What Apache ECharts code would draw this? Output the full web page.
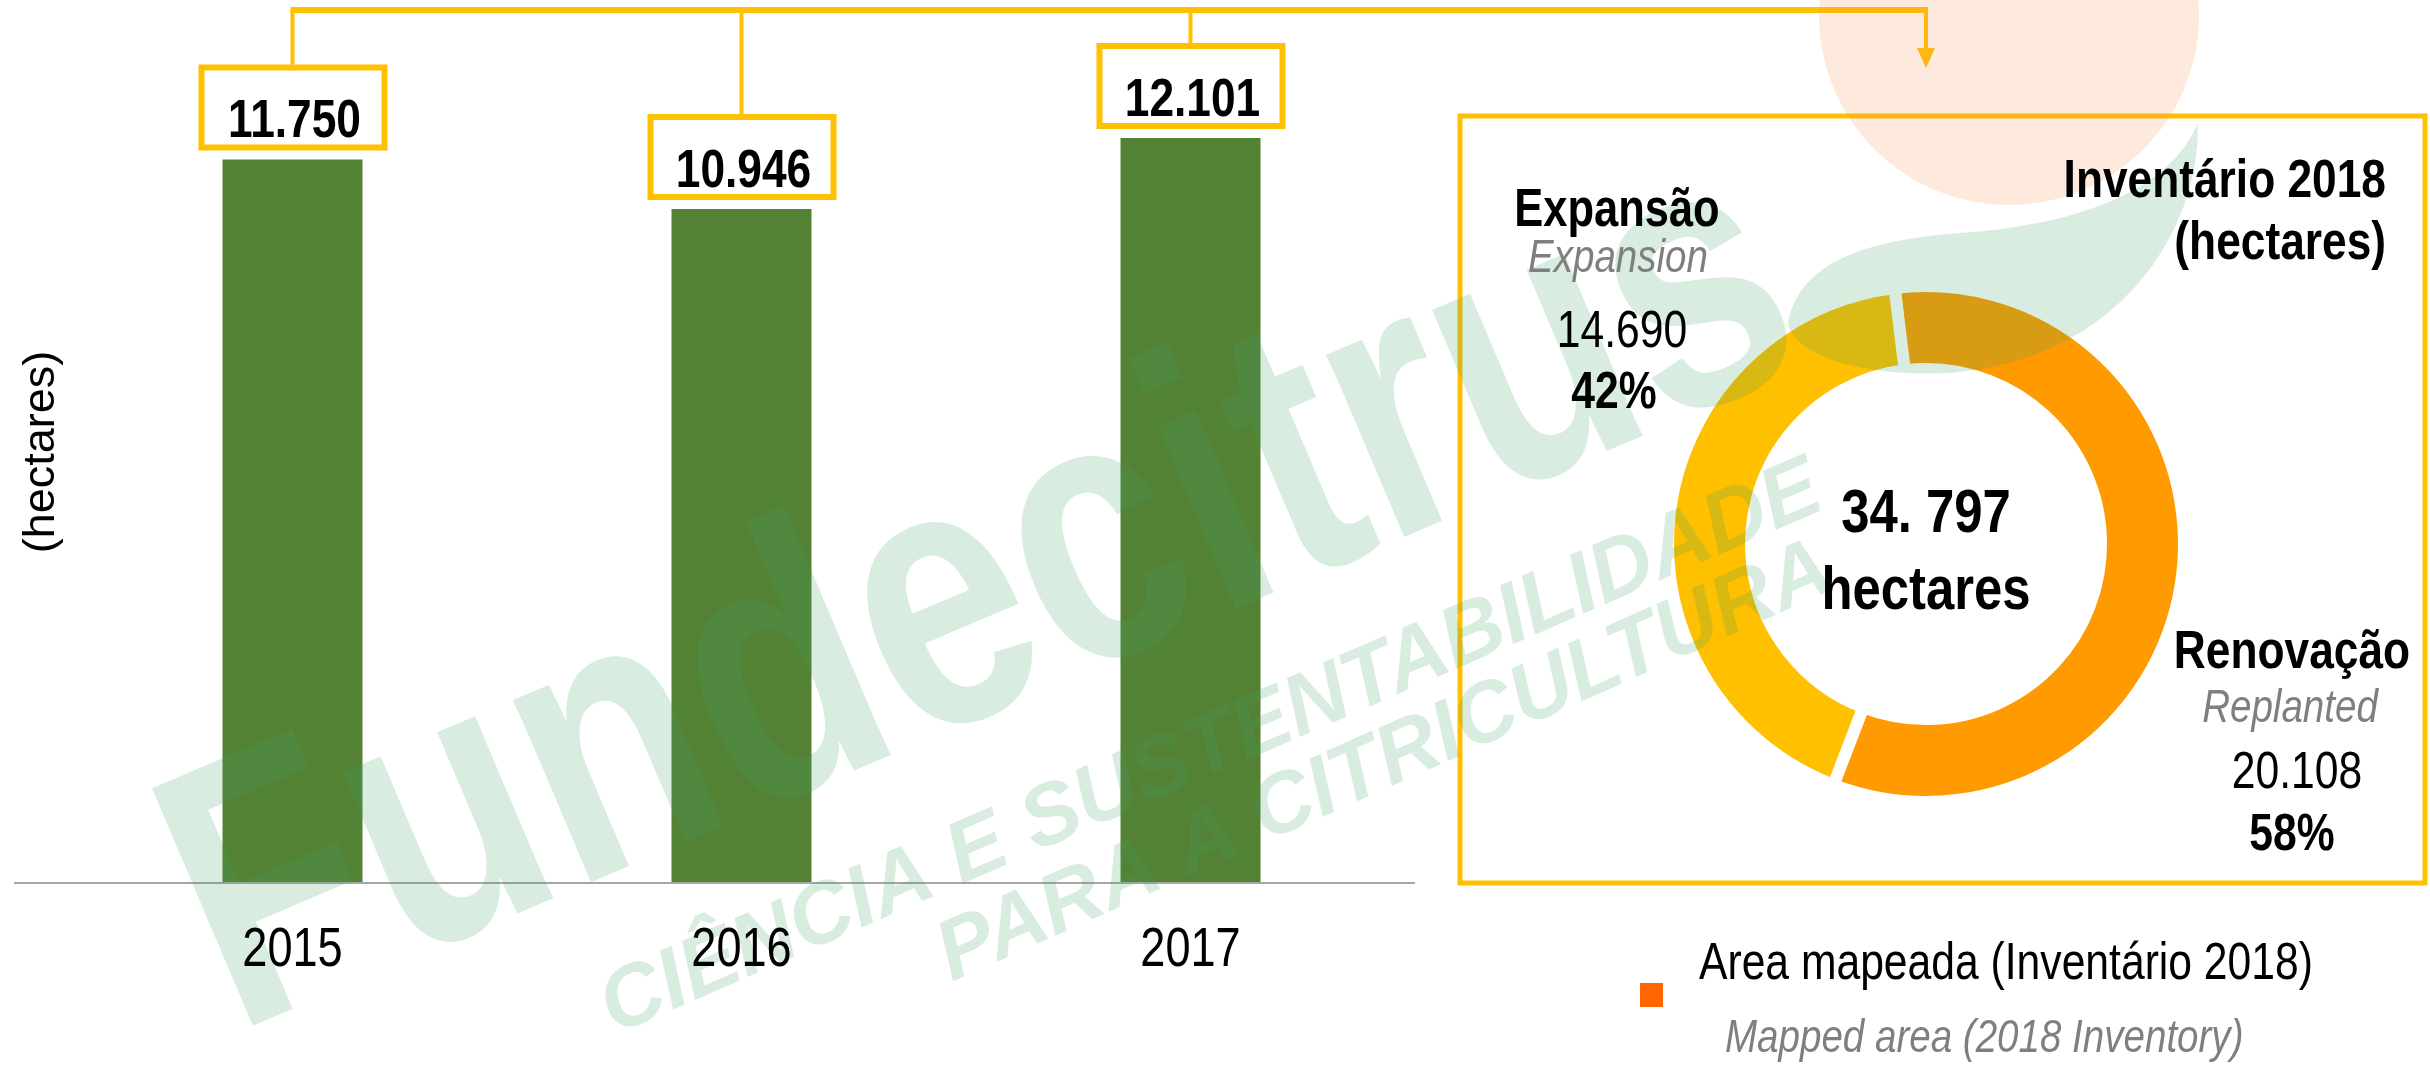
<!DOCTYPE html>
<html>
<head>
<meta charset="UTF-8">
<title>Inventário 2018</title>
<script src="https://cdn.jsdelivr.net/npm/echarts@6/dist/echarts.min.js"></script>
<style>
html, body { margin: 0; padding: 0; background: #fff; }
#main { width: 2430px; height: 1065px; }
</style>
</head>
<body>
<div id="main"></div>
<script>
// área plantada por ano (hectares)
var anos = ['2015', '2016', '2017'];
var areaPlantada = [11750, 10946, 12101];

// inventário 2018
var segmentos = ['Renovação', 'Expansão'];
var segmentosEn = ['Replanted', 'Expansion'];
var areaSegmento = [20108, 14690];
var coresSegmento = ['#FF9A00', '#FFC000'];
var totalInventario = 34797;

// Arial Narrow nao existe aqui: Liberation Sans comprimida a 82%
var FONT = '"Liberation Sans", Arial, sans-serif';
var NARROW = 0.82;
var AMARELO = '#FFC000';
var CINZA = '#7F7F7F';
var PIE_CX = 1926, PIE_CY = 544;

function fmt(v) {
	return String(v).replace(/\B(?=(\d{3})+(?!\d))/g, '.');
}
var soma = areaSegmento[0] + areaSegmento[1];
function pct(v) {
	return Math.round(v / soma * 100) + '%';
}

var chart = echarts.init(document.getElementById('main'));

var option = {
	animation: false,
	grid: { left: 68, top: 21, width: 1347, bottom: 182, containLabel: false, outerBoundsMode: 'none' },
	xAxis: {
		type: 'category',
		data: anos,
		axisLine: { show: false },
		axisTick: { show: false },
		axisLabel: { show: false }
	},
	yAxis: {
		type: 'value', min: 0, max: 14000,
		axisLine: { show: false }, axisTick: { show: false },
		axisLabel: { show: false }, splitLine: { show: false },
		name: '(hectares)', nameLocation: 'middle', nameRotate: 90, nameGap: 4,
		nameTextStyle: { fontSize: 45, color: '#000', fontFamily: FONT }
	},
	series: [
		{
			type: 'bar',
			data: areaPlantada,
			barWidth: 140,
			silent: true,
			itemStyle: { color: '#548235' }
		},
		{
			type: 'pie',
			center: [PIE_CX, PIE_CY],
			radius: [175, 258],
			startAngle: 97,
			silent: true,
			label: { show: false }, labelLine: { show: false },
			itemStyle: { borderColor: '#fff', borderWidth: 12 },
			data: segmentos.map(function (n, i) {
				return { name: n, value: areaSegmento[i], itemStyle: { color: coresSegmento[i] } };
			})
		}
	]
};
chart.setOption(option);

// texto "narrow": baseline em baseY
function texto(str, x, baseY, size, o) {
	o = o || {};
	return {
		type: 'text', x: x, y: baseY - 0.28 * size, z: 100, silent: true,
		scaleX: o.wide ? 1 : NARROW,
		style: {
			text: str, fill: o.cor || '#000', fontSize: size,
			fontWeight: o.bold ? 'bold' : 'normal', fontStyle: o.italic ? 'italic' : 'normal',
			fontFamily: FONT, align: o.align || 'center', verticalAlign: 'middle'
		}
	};
}
function marca(str, x, baseY, size, ang, o) {
	var r = ang * Math.PI / 180, off = 0.28 * size;
	return {
		type: 'text', x: x - Math.sin(r) * off, y: baseY - Math.cos(r) * off, rotation: r, z: 50, silent: true,
		scaleX: o.sx || 1,
		style: {
			text: str, fill: 'rgba(60,160,100,0.2)', fontSize: size, fontWeight: 'bold',
			fontStyle: o.italic ? 'italic' : 'normal', fontFamily: FONT,
			align: 'left', verticalAlign: 'middle'
		}
	};
}
function bezier(p0, segs) {
	var pts = [p0], cur = p0;
	segs.forEach(function (s) {
		for (var k = 1; k <= 16; k++) {
			var t = k / 16, u = 1 - t;
			pts.push([
				u * u * u * cur[0] + 3 * u * u * t * s[0][0] + 3 * u * t * t * s[1][0] + t * t * t * s[2][0],
				u * u * u * cur[1] + 3 * u * u * t * s[0][1] + 3 * u * t * t * s[1][1] + t * t * t * s[2][1]
			]);
		}
		cur = s[2];
	});
	return pts;
}

var g = [];
var y0 = chart.convertToPixel({ yAxisIndex: 0 }, 0);
g.push({ type: 'line', z: 5, shape: { x1: 14, y1: y0, x2: 1415, y2: y0 }, style: { stroke: '#A6A6A6', lineWidth: 2 } });

// rotulos das barras, anos e conectores
var topo = 10, xs = [];
areaPlantada.forEach(function (v, i) {
	var p = chart.convertToPixel({ seriesIndex: 0 }, [i, v]);
	xs.push(p[0]);
	var boxY = p[1] - 12 - 80;
	g.push({ type: 'rect', z: 20, shape: { x: p[0] - 91, y: boxY, width: 183, height: 80 }, style: { fill: '#fff', stroke: AMARELO, lineWidth: 6 } });
	g.push(texto(fmt(v), p[0] + 2, p[1] - 22, 54, { bold: true }));
	g.push({ type: 'line', z: 10, shape: { x1: p[0], y1: boxY - 3, x2: p[0], y2: topo }, style: { stroke: AMARELO, lineWidth: 4 } });
	g.push(texto(anos[i], p[0], 966, 55));
});
g.push({ type: 'line', z: 10, shape: { x1: xs[0] - 2, y1: topo, x2: PIE_CX + 2, y2: topo }, style: { stroke: AMARELO, lineWidth: 6 } });
g.push({ type: 'line', z: 10, shape: { x1: PIE_CX, y1: topo, x2: PIE_CX, y2: 52 }, style: { stroke: AMARELO, lineWidth: 4 } });
g.push({ type: 'polygon', z: 10, shape: { points: [[PIE_CX - 9, 48], [PIE_CX + 9, 48], [PIE_CX, 68]] }, style: { fill: AMARELO } });

// moldura do inventário
g.push({ type: 'rect', z: 10, shape: { x: 1460, y: 116, width: 965, height: 767 }, style: { fill: null, stroke: AMARELO, lineWidth: 5 } });

// Expansão
g.push(texto(segmentos[1], 1617, 226, 53, { bold: true }));
g.push(texto(segmentosEn[1], 1618, 272, 47, { italic: true, cor: CINZA }));
g.push(texto(fmt(areaSegmento[1]), 1622, 347, 52));
g.push(texto(pct(areaSegmento[1]), 1614, 408, 52, { bold: true }));
// título
g.push(texto('Inventário 2018', 2386, 197, 54, { bold: true, align: 'right' }));
g.push(texto('(hectares)', 2386, 259, 54, { bold: true, align: 'right' }));
// centro
g.push(texto(fmt(totalInventario).replace('.', '. '), PIE_CX, 532, 62, { bold: true }));
g.push(texto('hectares', PIE_CX, 609, 62, { bold: true }));
// Renovação
g.push(texto(segmentos[0], 2292, 668, 54, { bold: true }));
g.push(texto(segmentosEn[0], 2290, 722, 47, { italic: true, cor: CINZA }));
g.push(texto(fmt(areaSegmento[0]), 2297, 788, 52));
g.push(texto(pct(areaSegmento[0]), 2292, 850, 52, { bold: true }));
// legenda
g.push({ type: 'rect', z: 100, shape: { x: 1640, y: 983, width: 23, height: 24 }, style: { fill: '#FF6600' } });
g.push(texto('Area mapeada (Inventário 2018)', 1699, 979, 52, { align: 'left' }));
g.push(texto('Mapped area (2018 Inventory)', 1725, 1052, 47, { italic: true, cor: CINZA, align: 'left' }));

// marca d'água
g.push({ type: 'circle', z: 50, silent: true, shape: { cx: 2009, cy: 15, r: 190 }, style: { fill: 'rgba(245,150,80,0.2)' } });
g.push({
	type: 'polygon', z: 50, silent: true,
	shape: { points: bezier([2198, 123], [
		[[2200, 230], [2120, 360], [1950, 373]],
		[[1850, 378], [1790, 350], [1788, 322]],
		[[1800, 260], [1870, 240], [1960, 233]],
		[[2080, 225], [2170, 190], [2198, 123]]
	]) },
	style: { fill: 'rgba(60,160,100,0.2)' }
});
g.push(marca('Fundecitrus', 235, 1035, 375, 23, { sx: 0.8 }));
g.push(marca('CIÊNCIA E SUSTENTABILIDADE', 615, 1035, 86, 23.5, { italic: true }));
g.push(marca('PARA A CITRICULTURA', 952, 982, 85, 24, { italic: true }));

chart.setOption({ graphic: g });
</script>
</body>
</html>
